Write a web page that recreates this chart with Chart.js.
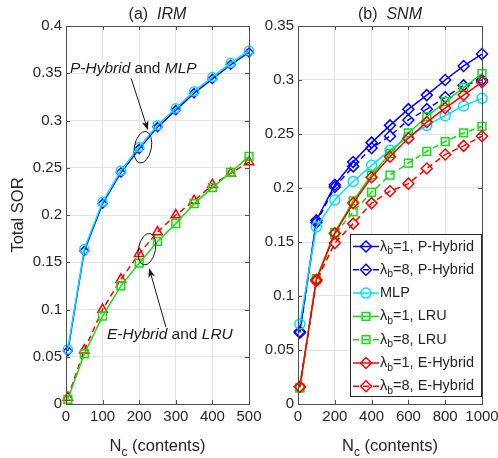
<!DOCTYPE html>
<html>
<head>
<meta charset="utf-8">
<script src="https://cdn.jsdelivr.net/npm/chart.js@4.4.0/dist/chart.umd.min.js"></script>
<style>
  html, body { margin: 0; padding: 0; background: #fff; }
  #wrap { position: relative; width: 498px; height: 458px; overflow: hidden; }
  canvas { position: absolute; top: 0; }
  #irm { left: 0; }
  #snm { left: 250px; }
</style>
</head>
<body>
<div id="wrap">
  <canvas id="irm" width="300" height="458"></canvas>
  <canvas id="snm" width="248" height="458"></canvas>
</div>
<script>
const FONT = '"Liberation Sans", Arial, Helvetica, sans-serif';
const INK = '#262626';
const AXIS = '#4d4d4d';
const GRID = '#e3e3e3';
const BLUE = '#0000ff';
const CYAN = '#00e0ff';
const GREEN = '#10e010';
const RED = '#ff0000';

// (a) IRM
const irmContents = [5, 50, 100, 150, 200, 250, 300, 350, 400, 450, 500];
const irmPHybrid = [0.056, 0.162, 0.212, 0.245, 0.270, 0.293, 0.311, 0.329, 0.344, 0.359, 0.372];
const irmMLP = [0.058, 0.164, 0.214, 0.247, 0.272, 0.295, 0.313, 0.331, 0.346, 0.361, 0.374];
const irmLRU = [0.005, 0.053, 0.093, 0.125, 0.149, 0.172, 0.191, 0.212, 0.229, 0.245, 0.262];
const irmEHybrid = [0.007, 0.057, 0.100, 0.132, 0.159, 0.182, 0.200, 0.215, 0.232, 0.244, 0.256];
const irmXTicks = [0, 100, 200, 300, 400, 500];
const irmYTicks = [0, 0.05, 0.1, 0.15, 0.2, 0.25, 0.3, 0.35, 0.4];
const irmYLabels = ['0', '0.05', '0.1', '0.15', '0.2', '0.25', '0.3', '0.35', '0.4'];

// (b) SNM
const snmContents = [10, 100, 200, 300, 400, 500, 600, 700, 800, 900, 1000];
const snmPHybrid1 = [0.067, 0.170, 0.203, 0.224, 0.242, 0.258, 0.273, 0.286, 0.300, 0.313, 0.324];
const snmPHybrid8 = [0.066, 0.168, 0.201, 0.220, 0.237, 0.248, 0.263, 0.273, 0.284, 0.295, 0.300];
const snmMLP = [0.074, 0.164, 0.189, 0.206, 0.221, 0.235, 0.247, 0.258, 0.267, 0.276, 0.283];
const snmLRU1 = [0.015, 0.116, 0.159, 0.188, 0.212, 0.232, 0.251, 0.266, 0.280, 0.293, 0.306];
const snmLRU8 = [0.015, 0.115, 0.157, 0.178, 0.196, 0.212, 0.223, 0.234, 0.243, 0.251, 0.257];
const snmEHybrid1 = [0.016, 0.115, 0.158, 0.186, 0.210, 0.229, 0.246, 0.261, 0.274, 0.286, 0.298];
const snmEHybrid8 = [0.016, 0.114, 0.149, 0.167, 0.186, 0.197, 0.204, 0.218, 0.231, 0.239, 0.248];
const snmXTicks = [0, 200, 400, 600, 800, 1000];
const snmYTicks = [0, 0.05, 0.1, 0.15, 0.2, 0.25, 0.3, 0.35];
const snmYLabels = ['0', '0.05', '0.1', '0.15', '0.2', '0.25', '0.3', '0.35'];
const snmLabels = [
    ['λ', 'b', '=1, P-Hybrid'],
    ['λ', 'b', '=8, P-Hybrid'],
    ['MLP'],
    ['λ', 'b', '=1, LRU'],
    ['λ', 'b', '=8, LRU'],
    ['λ', 'b', '=1, E-Hybrid'],
    ['λ', 'b', '=8, E-Hybrid']
];

function series(label, xs, ys, color, style, radius, dashed, order) {
    return {
        label: label,
        data: xs.map((x, i) => ({ x: x, y: ys[i] })),
        borderColor: color,
        backgroundColor: 'transparent',
        pointBackgroundColor: 'transparent',
        pointBorderColor: color,
        pointStyle: style,
        pointRadius: radius,
        pointBorderWidth: 1.5,
        borderWidth: 1.5,
        borderDash: dashed ? [6, 4] : [],
        clip: false,
        order: order
    };
}

function font(size, italic) {
    return (italic ? 'italic ' : '') + size + 'px ' + FONT;
}

// draws a run of text pieces: {t, italic, sub}
function drawRun(ctx, parts, x, y, size, align) {
    let total = 0;
    parts.forEach(p => {
        ctx.font = font(p.sub ? size * 0.72 : size, p.italic);
        p.w = ctx.measureText(p.t).width;
        total += p.w;
    });
    let cx = align === 'center' ? x - total / 2 : x;
    ctx.textAlign = 'left';
    parts.forEach(p => {
        ctx.font = font(p.sub ? size * 0.72 : size, p.italic);
        ctx.fillText(p.t, cx, p.sub ? y + size * 0.32 : y);
        cx += p.w;
    });
}

function drawMarker(ctx, style, x, y, r) {
    ctx.beginPath();
    if (style === 'circle') {
        ctx.arc(x, y, r, 0, Math.PI * 2);
    } else if (style === 'rect') {
        const s = r * Math.SQRT1_2;
        ctx.rect(x - s, y - s, 2 * s, 2 * s);
    } else if (style === 'rectRot') {
        ctx.moveTo(x, y - r);
        ctx.lineTo(x + r, y);
        ctx.lineTo(x, y + r);
        ctx.lineTo(x - r, y);
        ctx.closePath();
    }
    ctx.stroke();
}

// box, inward ticks and titles
function framePlugin(title, withYTitle) {
    return {
        id: 'frame',
        afterDraw(chart) {
            const ctx = chart.ctx;
            const a = chart.chartArea;
            const sx = chart.scales.x, sy = chart.scales.y;
            ctx.save();
            ctx.strokeStyle = AXIS;
            ctx.lineWidth = 1;
            ctx.setLineDash([]);
            ctx.strokeRect(a.left + 0.5, a.top + 0.5, a.right - a.left, a.bottom - a.top);
            ctx.beginPath();
            sx.ticks.forEach(t => {
                const px = Math.round(sx.getPixelForValue(t.value)) + 0.5;
                ctx.moveTo(px, a.bottom); ctx.lineTo(px, a.bottom - 4);
                ctx.moveTo(px, a.top); ctx.lineTo(px, a.top + 4);
            });
            sy.ticks.forEach(t => {
                const py = Math.round(sy.getPixelForValue(t.value)) + 0.5;
                ctx.moveTo(a.left, py); ctx.lineTo(a.left + 4, py);
                ctx.moveTo(a.right, py); ctx.lineTo(a.right - 4, py);
            });
            ctx.stroke();

            const mid = (a.left + a.right) / 2;
            ctx.fillStyle = INK;
            ctx.textBaseline = 'middle';
            drawRun(ctx, title, mid, 15, 16, 'center');

            ctx.textBaseline = 'alphabetic';
            drawRun(ctx, [{ t: 'N' }, { t: 'c', sub: true }, { t: ' (contents)' }], mid, 451, 16.5, 'center');

            if (withYTitle) {
                ctx.translate(18, (a.top + a.bottom) / 2);
                ctx.rotate(-Math.PI / 2);
                ctx.textBaseline = 'middle';
                drawRun(ctx, [{ t: 'Total SOR' }], 0, 0, 16.5, 'center');
            }
            ctx.restore();
        }
    };
}

// callouts on the IRM panel
const calloutPlugin = {
    id: 'callouts',
    afterDraw(chart) {
        const ctx = chart.ctx;
        const sx = chart.scales.x, sy = chart.scales.y;
        const P = (x, y) => [sx.getPixelForValue(x), sy.getPixelForValue(y)];
        ctx.save();
        ctx.strokeStyle = '#1a1a1a';
        ctx.fillStyle = '#1a1a1a';
        ctx.lineWidth = 1;

        function ellipse(c) {
            ctx.beginPath();
            ctx.ellipse(c[0], c[1], 8.5, 16, 0.2, 0, Math.PI * 2);
            ctx.stroke();
        }
        function arrow(from, to) {
            const ang = Math.atan2(to[1] - from[1], to[0] - from[0]);
            ctx.beginPath();
            ctx.moveTo(from[0], from[1]);
            ctx.lineTo(to[0] - 6 * Math.cos(ang), to[1] - 6 * Math.sin(ang));
            ctx.stroke();
            ctx.beginPath();
            ctx.moveTo(to[0], to[1]);
            ctx.lineTo(to[0] - 10 * Math.cos(ang - 0.35), to[1] - 10 * Math.sin(ang - 0.35));
            ctx.lineTo(to[0] - 7 * Math.cos(ang), to[1] - 7 * Math.sin(ang));
            ctx.lineTo(to[0] - 10 * Math.cos(ang + 0.35), to[1] - 10 * Math.sin(ang + 0.35));
            ctx.closePath();
            ctx.fill();
        }

        ellipse(P(210, 0.2717));
        arrow(P(178, 0.3446), P(224, 0.2896));
        ellipse(P(221, 0.1638));
        arrow(P(273, 0.0814), P(227, 0.1438));

        ctx.textBaseline = 'middle';
        let p = P(11, 0.355);
        drawRun(ctx, [{ t: 'P-Hybrid', italic: true }, { t: ' and ' }, { t: 'MLP', italic: true }], p[0], p[1], 15.5, 'left');
        p = P(112, 0.073);
        drawRun(ctx, [{ t: 'E-Hybrid', italic: true }, { t: ' and ' }, { t: 'LRU', italic: true }], p[0], p[1], 15.5, 'left');
        ctx.restore();
    }
};

// legend box on the SNM panel
const legendPlugin = {
    id: 'snmLegend',
    afterDraw(chart) {
        const ctx = chart.ctx;
        const a = chart.chartArea;
        const left = a.right - 132, top = a.top + 208, bottom = a.bottom - 8;
        ctx.save();
        ctx.fillStyle = '#fff';
        ctx.fillRect(left, top, a.right - left, bottom - top);
        ctx.strokeStyle = INK;
        ctx.lineWidth = 1;
        ctx.strokeRect(left + 0.5, top + 0.5, a.right - left - 1, bottom - top);
        chart.data.datasets.forEach((ds, i) => {
            const y = top + 12.5 + i * 23.3;
            ctx.strokeStyle = ds.borderColor;
            ctx.lineWidth = 1.5;
            ctx.setLineDash(ds.borderDash);
            ctx.beginPath();
            ctx.moveTo(left + 3, y);
            ctx.lineTo(left + 29, y);
            ctx.stroke();
            ctx.setLineDash([]);
            drawMarker(ctx, ds.pointStyle, left + 16, y, ds.pointRadius);
            const parts = snmLabels[i];
            const run = parts.length === 1 ? [{ t: parts[0] }] :
                [{ t: parts[0] }, { t: parts[1], sub: true }, { t: parts[2] }];
            ctx.fillStyle = INK;
            ctx.textBaseline = 'middle';
            drawRun(ctx, run, left + 30, y, 14.5, 'left');
        });
        ctx.restore();
    }
};

function panelOptions(xMax, xTicks, yMax, yTicks, yLabels, yWidth, padRight) {
    const tickFont = { family: FONT, size: 15 };
    return {
        responsive: false,
        animation: false,
        events: [],
        layout: { padding: { top: 26, right: padRight, left: 0, bottom: 0 } },
        plugins: { legend: { display: false }, tooltip: { enabled: false } },
        scales: {
            x: {
                type: 'linear', min: 0, max: xMax,
                afterBuildTicks: s => { s.ticks = xTicks.map(v => ({ value: v })); },
                afterFit: s => { s.height = 54; s.paddingLeft = 0; s.paddingRight = 0; },
                grid: { color: GRID, drawTicks: false },
                border: { display: false },
                ticks: { color: INK, font: tickFont, padding: 4, maxRotation: 0, autoSkip: false,
                         callback: v => String(v) }
            },
            y: {
                type: 'linear', min: 0, max: yMax,
                afterBuildTicks: s => { s.ticks = yTicks.map(v => ({ value: v })); },
                afterFit: s => { s.width = yWidth; s.paddingTop = 0; s.paddingBottom = 0; },
                grid: { color: GRID, drawTicks: false },
                border: { display: false },
                ticks: { color: INK, font: tickFont, padding: 4, autoSkip: false,
                         callback: v => yLabels[yTicks.indexOf(v)] }
            }
        }
    };
}

new Chart(document.getElementById('irm'), {
    type: 'line',
    data: {
        datasets: [
            series('P-Hybrid', irmContents, irmPHybrid, BLUE, 'rectRot', 4.5, false, 0),
            series('MLP', irmContents, irmMLP, CYAN, 'circle', 4.5, false, -1),
            series('E-Hybrid', irmContents, irmEHybrid, RED, 'triangle', 5.5, true, -2),
            series('LRU', irmContents, irmLRU, GREEN, 'rect', 5.5, false, -3)
        ]
    },
    options: panelOptions(500, irmXTicks, 0.4, irmYTicks, irmYLabels, 66, 51),
    plugins: [framePlugin([{ t: '(a)  ' }, { t: 'IRM', italic: true }], true), calloutPlugin]
});

new Chart(document.getElementById('snm'), {
    type: 'line',
    data: {
        datasets: [
            series('λb=1, P-Hybrid', snmContents, snmPHybrid1, BLUE, 'rectRot', 5.5, false, 0),
            series('λb=8, P-Hybrid', snmContents, snmPHybrid8, BLUE, 'rectRot', 5.5, true, -1),
            series('MLP', snmContents, snmMLP, CYAN, 'circle', 5, false, -2),
            series('λb=1, LRU', snmContents, snmLRU1, GREEN, 'rect', 5.5, false, -3),
            series('λb=8, LRU', snmContents, snmLRU8, GREEN, 'rect', 5.5, true, -4),
            series('λb=1, E-Hybrid', snmContents, snmEHybrid1, RED, 'rectRot', 5.5, false, -5),
            series('λb=8, E-Hybrid', snmContents, snmEHybrid8, RED, 'rectRot', 5.5, true, -6)
        ]
    },
    options: panelOptions(1000, snmXTicks, 0.35, snmYTicks, snmYLabels, 48, 16),
    plugins: [framePlugin([{ t: '(b)  ' }, { t: 'SNM', italic: true }], false), legendPlugin]
});
</script>
</body>
</html>
